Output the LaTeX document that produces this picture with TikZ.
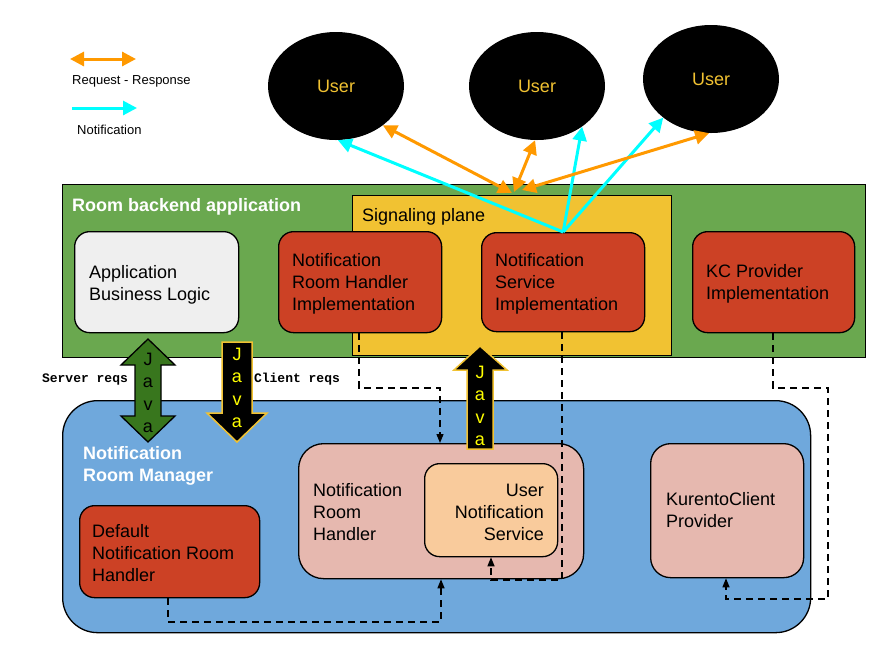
\documentclass[tikz,border=0pt]{standalone}
\usepackage{fontspec}
\setmainfont{Liberation Sans}
\setmonofont{Liberation Mono}
\usetikzlibrary{shapes.geometric,arrows.meta,calc}
\definecolor{bgreen}{HTML}{6AA84F}
\definecolor{syellow}{HTML}{F1C232}
\definecolor{bred}{HTML}{CC4125}
\definecolor{lgray}{HTML}{EFEFEF}
\definecolor{mblue}{HTML}{6FA8DC}
\definecolor{bpink}{HTML}{E6B8AF}
\definecolor{bpeach}{HTML}{F9CB9C}
\definecolor{jgreen}{HTML}{38761D}
\definecolor{orng}{HTML}{FF9900}
\definecolor{cyn}{HTML}{00FFFF}
\definecolor{jyel}{HTML}{FFFF00}
\tikzset{
  box/.style={draw=black, line width=1.3pt, rounded corners=15pt, inner sep=0pt, anchor=north west},
  flatbox/.style={draw=black, line width=1.3pt, inner sep=0pt, anchor=north west},
  txt/.style={inner sep=0pt, align=left, anchor=west, yshift=-2pt, font=\fontsize{18}{22}\selectfont},
  rtxt/.style={inner sep=0pt, align=right, anchor=east, yshift=-2pt, font=\fontsize{18}{22}\selectfont},
  btxt/.style={inner sep=0pt, align=left, anchor=west, yshift=-2pt, text=white, font=\bfseries\fontsize{18}{22.5}\selectfont},
  legtxt/.style={inner sep=0pt, anchor=west, yshift=-2pt, font=\fontsize{13}{15}\selectfont},
  reqtxt/.style={inner sep=0pt, font=\ttfamily\bfseries\fontsize{13}{15}\selectfont},
  user/.style={ellipse, fill=black, minimum width=136pt, minimum height=108pt, inner sep=0pt, text=syellow, font=\fontsize{18}{22}\selectfont},
  dashline/.style={line width=1.3pt, dash pattern=on 7pt off 5pt, -{Triangle[length=9pt,width=7pt]}},
  rr/.style={draw=orng, line width=3pt, {Triangle[length=14pt,width=14pt]}-{Triangle[length=14pt,width=14pt]}},
  nt/.style={draw=cyn, line width=3pt, -{Triangle[length=14pt,width=14pt]}},
  javatxt/.style={inner sep=0pt, align=center, font=\fontsize{18}{22.5}\selectfont}
}
\begin{document}
\begin{tikzpicture}[x=1pt,y=-1pt]
\useasboundingbox (0,0) rectangle (887,649);
% legend
\coordinate (la1) at (70,59); \coordinate (la2) at (136,59);
\draw[rr] (la1) -- (la2);
\node[legtxt] (lrr) at (72,79) {Request - Response};
\coordinate (lb1) at (72,108); \coordinate (lb2) at (137,108);
\draw[nt] (lb1) -- (lb2);
\node[legtxt] (lnt) at (77,128) {Notification};
% backend
\node[flatbox, fill=bgreen, minimum width=803pt, minimum height=173pt] (backend) at (62,184) {};
\node[btxt] (backendt) at (72,205) {Room backend application};
\node[flatbox, fill=syellow, minimum width=319pt, minimum height=160pt] (sig) at (352,195) {};
\node[txt] (sigt) at (362,215) {Signaling plane};
\node[box, fill=lgray, minimum width=164pt, minimum height=101pt] (abl) at (74,231) {};
\node[txt] (ablt) at (89,283) {Application\\Business Logic};
\node[box, fill=bred, minimum width=163pt, minimum height=101pt] (nrhi) at (278,231) {};
\node[txt] (nrhit) at (292,282) {Notification\\Room Handler\\Implementation};
\node[box, fill=bred, minimum width=163pt, minimum height=99pt] (nsi) at (481,232) {};
\node[txt] (nsit) at (495,282) {Notification\\Service\\Implementation};
\node[box, fill=bred, minimum width=162pt, minimum height=101pt] (kcpi) at (692,231) {};
\node[txt] (kcpit) at (706,282) {KC Provider\\Implementation};
% room manager
\node[box, rounded corners=35pt, fill=mblue, minimum width=748pt, minimum height=232pt] (mgr) at (62,400) {};
\node[btxt] (mgrt) at (83,464) {Notification\\Room Manager};
\node[box, fill=bred, minimum width=180pt, minimum height=92pt] (dnrh) at (79,505) {};
\node[txt] (dnrht) at (92,551) {Default\\Notification Room\\Handler};
\node[box, rounded corners=25pt, fill=bpink, minimum width=285pt, minimum height=135pt] (nrh) at (298,443) {};
\node[txt] (nrht) at (313,510) {Notification\\Room\\Handler};
\node[box, fill=bpeach, minimum width=133pt, minimum height=93pt] (uns) at (424,463) {};
\node[rtxt] (unst) at (544,510) {User\\Notification\\Service};
\node[box, rounded corners=20pt, fill=bpink, minimum width=153pt, minimum height=134pt] (kcp) at (650,443) {};
\node[txt] (kcpt) at (666,508) {KurentoClient\\Provider};
% dashed connectors
\coordinate (d1) at (359,388); \coordinate (d1b) at (440,388);
\draw[dashline] (nrhi.south -| d1) -- (d1) -- (d1b) -- (nrh.north -| d1b);
\coordinate (d2) at (562,580); \coordinate (d2b) at (491,580);
\draw[dashline] (nsi.south -| d2) -- (d2) -- (d2b) -- (uns.south -| d2b);
\coordinate (d3) at (168,622); \coordinate (d3b) at (441,622);
\draw[dashline] (dnrh.south -| d3) -- (d3) -- (d3b) -- (nrh.south -| d3b);
\coordinate (d4a) at (773,388); \coordinate (d4b) at (828,388);
\coordinate (d4c) at (828,599); \coordinate (d4d) at (726,599);
\draw[dashline] (kcpi.south -| d4a) -- (d4a) -- (d4b) -- (d4c) -- (d4d) -- (kcp.south -| d4d);
% Java arrows
\draw[fill=jgreen, line width=1.3pt, line join=miter] (148,339) -- (175,365) -- (161,365) -- (161,416) -- (175,416) -- (148,442) -- (121,416) -- (135,416) -- (135,365) -- (121,365) -- cycle;
\node[javatxt, text=black] (j1) at (148,393) {J\\a\\v\\a};
\draw[fill=black, draw=syellow, line width=1.5pt, line join=miter] (222,342) -- (252,342) -- (252,413) -- (267,413) -- (237,442) -- (207,413) -- (222,413) -- cycle;
\node[javatxt, text=jyel] (j2) at (237,388) {J\\a\\v\\a};
\draw[fill=black, draw=syellow, line width=1.5pt, line join=miter] (480,346) -- (507,370) -- (493,370) -- (493,449) -- (467,449) -- (467,370) -- (454,370) -- cycle;
\node[javatxt, text=jyel] (j3) at (480,406) {J\\a\\v\\a};
\node[reqtxt] (sreq) at (85,379) {Server reqs};
\node[reqtxt] (creq) at (297,379) {Client reqs};
% users
\node[user] (u1) at (336,86) {User};
\node[user] (u2) at (537,86) {User};
\node[user] (u3) at (711,79) {User};
% notification arrows
\draw[nt] (nsi.north) -- (u1.-88);
\draw[nt] (nsi.north) -- (u2.-42);
\draw[nt] (nsi.north) -- (u3.-141);
% request-response arrows
\coordinate (h1) at (512,193); \coordinate (h2) at (514,192); \coordinate (h3) at (522,190);
\draw[rr] (u1.-40) -- (h1);
\draw[rr] (u2.-92) -- (h2);
\draw[rr] (u3.-92) -- (h3);
\end{tikzpicture}
\end{document}
